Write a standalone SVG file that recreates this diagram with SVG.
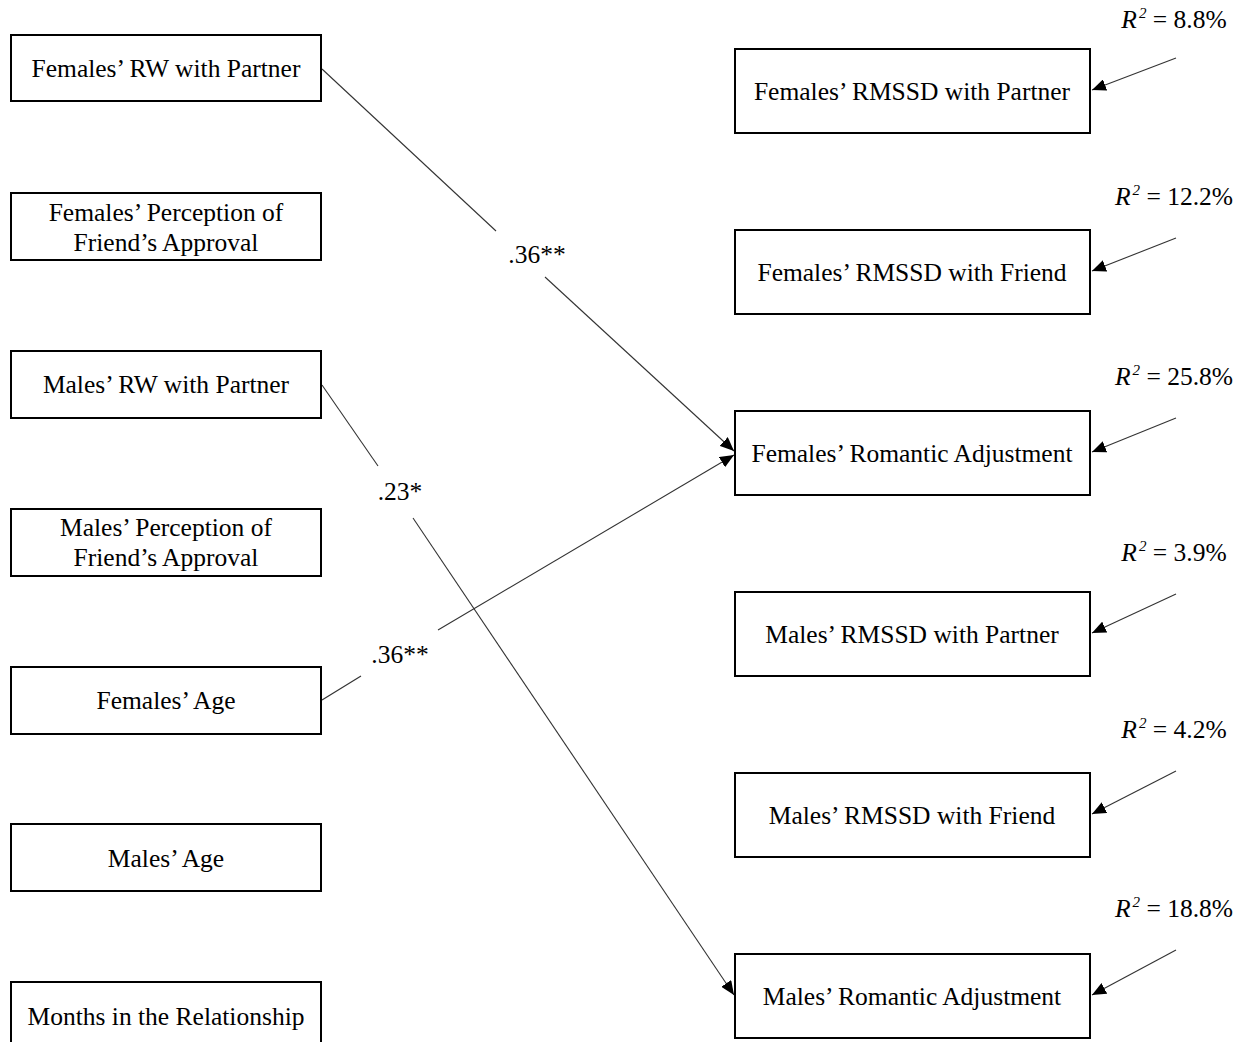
<svg xmlns="http://www.w3.org/2000/svg" width="1244" height="1042" viewBox="0 0 1244 1042">
<style>
.box{fill:#fff;stroke:#000;stroke-width:2}
.t{font-family:"Liberation Serif","Times New Roman",serif;font-size:25.5px;fill:#000;text-anchor:middle}
.r{font-family:"Liberation Serif","Times New Roman",serif;font-size:25.5px;fill:#000;text-anchor:middle}
.it{font-style:italic}
.ln{stroke:#333;stroke-width:1.1;fill:none}
</style>
<defs>
<marker id="ah" viewBox="0 0 14 12" refX="14" refY="6" markerWidth="14" markerHeight="12" markerUnits="userSpaceOnUse" orient="auto">
<path d="M0,0 L14,6 L0,12 Z" fill="#000"/>
</marker>
</defs>
<rect width="1244" height="1042" fill="#fff"/>
<g id="connectors">
<line class="ln" x1="322" y1="69" x2="496" y2="231"/>
<line class="ln" x1="545" y1="277" x2="734" y2="451" marker-end="url(#ah)"/>
<line class="ln" x1="322" y1="385" x2="378" y2="466"/>
<line class="ln" x1="413" y1="518" x2="734" y2="995" marker-end="url(#ah)"/>
<line class="ln" x1="322" y1="700" x2="361" y2="676"/>
<line class="ln" x1="438" y1="630" x2="734" y2="455" marker-end="url(#ah)"/>
<line class="ln" x1="1176" y1="58" x2="1092" y2="90" marker-end="url(#ah)"/>
<line class="ln" x1="1176" y1="238" x2="1092" y2="271" marker-end="url(#ah)"/>
<line class="ln" x1="1176" y1="418" x2="1092" y2="452" marker-end="url(#ah)"/>
<line class="ln" x1="1176" y1="594" x2="1092" y2="633" marker-end="url(#ah)"/>
<line class="ln" x1="1176" y1="771" x2="1092" y2="814" marker-end="url(#ah)"/>
<line class="ln" x1="1176" y1="950" x2="1092" y2="995" marker-end="url(#ah)"/>
<text class="t" x="537" y="263">.36**</text>
<text class="t" x="400" y="500">.23*</text>
<text class="t" x="400" y="663">.36**</text>
</g>
<g id="n-frw"><rect class="box" x="11" y="35" width="310" height="66"/><text class="t" x="166" y="77">Females’ RW with Partner</text></g>
<g id="n-fpfa"><rect class="box" x="11" y="193" width="310" height="67"/><text class="t" x="166" y="221">Females’ Perception of</text><text class="t" x="166" y="251">Friend’s Approval</text></g>
<g id="n-mrw"><rect class="box" x="11" y="351" width="310" height="67"/><text class="t" x="166" y="393">Males’ RW with Partner</text></g>
<g id="n-mpfa"><rect class="box" x="11" y="509" width="310" height="67"/><text class="t" x="166" y="536">Males’ Perception of</text><text class="t" x="166" y="566">Friend’s Approval</text></g>
<g id="n-fage"><rect class="box" x="11" y="667" width="310" height="67"/><text class="t" x="166" y="709">Females’ Age</text></g>
<g id="n-mage"><rect class="box" x="11" y="824" width="310" height="67"/><text class="t" x="166" y="867">Males’ Age</text></g>
<g id="n-months"><rect class="box" x="11" y="982" width="310" height="67"/><text class="t" x="166" y="1025">Months in the Relationship</text></g>
<g id="n-frp"><rect class="box" x="735" y="49" width="355" height="84"/><text class="t" x="912" y="100">Females’ RMSSD with Partner</text><text class="r" x="1174" y="28"><tspan class="it">R</tspan><tspan class="it" font-size="15" dx="2" dy="-10">2</tspan><tspan dy="10"> = 8.8%</tspan></text></g>
<g id="n-frf"><rect class="box" x="735" y="230" width="355" height="84"/><text class="t" x="912" y="281">Females’ RMSSD with Friend</text><text class="r" x="1174" y="205"><tspan class="it">R</tspan><tspan class="it" font-size="15" dx="2" dy="-10">2</tspan><tspan dy="10"> = 12.2%</tspan></text></g>
<g id="n-fra"><rect class="box" x="735" y="411" width="355" height="84"/><text class="t" x="912" y="462">Females’ Romantic Adjustment</text><text class="r" x="1174" y="385"><tspan class="it">R</tspan><tspan class="it" font-size="15" dx="2" dy="-10">2</tspan><tspan dy="10"> = 25.8%</tspan></text></g>
<g id="n-mrp"><rect class="box" x="735" y="592" width="355" height="84"/><text class="t" x="912" y="643">Males’ RMSSD with Partner</text><text class="r" x="1174" y="561"><tspan class="it">R</tspan><tspan class="it" font-size="15" dx="2" dy="-10">2</tspan><tspan dy="10"> = 3.9%</tspan></text></g>
<g id="n-mrf"><rect class="box" x="735" y="773" width="355" height="84"/><text class="t" x="912" y="824">Males’ RMSSD with Friend</text><text class="r" x="1174" y="738"><tspan class="it">R</tspan><tspan class="it" font-size="15" dx="2" dy="-10">2</tspan><tspan dy="10"> = 4.2%</tspan></text></g>
<g id="n-mra"><rect class="box" x="735" y="954" width="355" height="84"/><text class="t" x="912" y="1005">Males’ Romantic Adjustment</text><text class="r" x="1174" y="917"><tspan class="it">R</tspan><tspan class="it" font-size="15" dx="2" dy="-10">2</tspan><tspan dy="10"> = 18.8%</tspan></text></g>
</svg>
